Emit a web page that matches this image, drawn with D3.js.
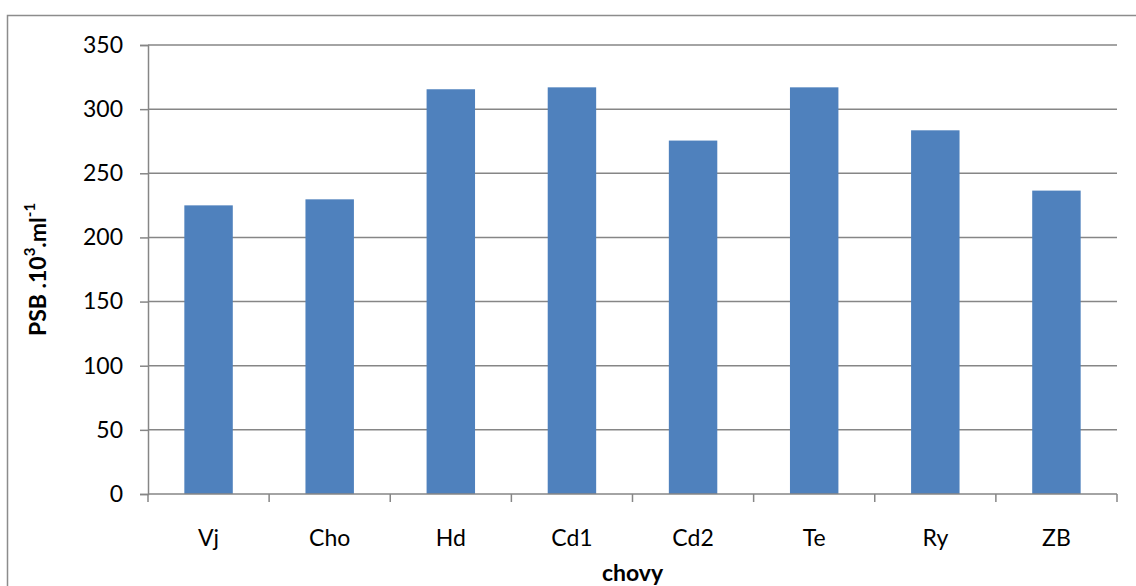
<!DOCTYPE html>
<html>
<head>
<meta charset="utf-8">
<script src="https://cdn.jsdelivr.net/npm/d3@7"></script>
<style>
  html, body { margin: 0; padding: 0; background: #fff; }
  svg { display: block; }
  text { font-family: Lato, "Open Sans", sans-serif; fill: #000; }
</style>
</head>
<body>
<svg id="chart" width="1136" height="586"></svg>
<script>
// Herds and their bulk-milk somatic cell counts (PSB, thousands per ml)
const categories = ["Vj", "Cho", "Hd", "Cd1", "Cd2", "Te", "Ry", "ZB"];
const values = [225, 229.7, 315.5, 317, 275.5, 317, 283.5, 236.5];
const yTicks = [0, 50, 100, 150, 200, 250, 300, 350];

const svg = d3.select("#chart");
const plot = { left: 148, right: 1117, top: 45, bottom: 494 };

// Outer chart frame
svg.append("rect")
  .attr("x", 7.5).attr("y", 15.5)
  .attr("width", 1140).attr("height", 590)
  .attr("fill", "none").attr("stroke", "#8c8c8c").attr("stroke-width", 1.5);

const x = d3.scaleBand()
  .domain(categories)
  .range([plot.left, plot.right])
  .paddingInner(0.6)
  .paddingOuter(0.3);

const xEdge = d3.scaleLinear()
  .domain([0, categories.length])
  .range([plot.left, plot.right]);

const y = d3.scaleLinear().domain([0, 350]).range([plot.bottom, plot.top]);

// Horizontal gridlines
svg.append("g")
  .selectAll("line")
  .data(yTicks.filter(t => t > 0))
  .join("line")
  .attr("x1", plot.left).attr("x2", plot.right)
  .attr("y1", d => y(d)).attr("y2", d => y(d))
  .attr("stroke", "#868686").attr("stroke-width", 1.5);

// Bars
svg.append("g")
  .selectAll("rect")
  .data(categories)
  .join("rect")
  .attr("x", (d) => x(d))
  .attr("width", x.bandwidth())
  .attr("y", (d, i) => y(values[i]))
  .attr("height", (d, i) => y(0) - y(values[i]))
  .attr("fill", "#4f81bd");

// Y axis
const yAxis = d3.axisLeft(y).tickValues(yTicks).tickSize(8).tickPadding(17).tickFormat(d3.format("d"));
const gy = svg.append("g").attr("transform", `translate(${plot.left},0)`).call(yAxis);
gy.select(".domain").attr("stroke", "#868686").attr("stroke-width", 1.5);
gy.selectAll(".tick line").attr("stroke", "#868686").attr("stroke-width", 1.5);
gy.selectAll(".tick text").style("font-size", "23px").attr("fill", "#000");

// X axis: baseline with ticks on category boundaries
svg.append("line")
  .attr("x1", plot.left).attr("x2", plot.right)
  .attr("y1", plot.bottom).attr("y2", plot.bottom)
  .attr("stroke", "#868686").attr("stroke-width", 1.5);

svg.append("g")
  .selectAll("line")
  .data(d3.range(categories.length + 1))
  .join("line")
  .attr("x1", d => xEdge(d)).attr("x2", d => xEdge(d))
  .attr("y1", plot.bottom).attr("y2", plot.bottom + 8)
  .attr("stroke", "#868686").attr("stroke-width", 1.5);

svg.append("g")
  .selectAll("text")
  .data(categories)
  .join("text")
  .attr("x", d => x(d) + x.bandwidth() / 2)
  .attr("y", 537)
  .attr("text-anchor", "middle")
  .attr("dominant-baseline", "central")
  .style("font-size", "23px")
  .text(d => d);

// Axis titles
svg.append("text")
  .attr("x", (plot.left + plot.right) / 2)
  .attr("y", 572)
  .attr("text-anchor", "middle")
  .attr("dominant-baseline", "central")
  .style("font-size", "23px")
  .style("font-weight", "bold")
  .text("chovy");

const yt = svg.append("text")
  .attr("transform", `translate(37,${(plot.top + plot.bottom) / 2}) rotate(-90)`)
  .attr("text-anchor", "middle")
  .attr("dominant-baseline", "central")
  .style("font-size", "23px")
  .style("font-weight", "bold");
yt.append("tspan").text("PSB .10");
yt.append("tspan").attr("dy", -8).style("font-size", "15px").text("3");
yt.append("tspan").attr("dy", 8).text(".ml");
yt.append("tspan").attr("dy", -8).style("font-size", "15px").text("-1");
</script>
</body>
</html>
